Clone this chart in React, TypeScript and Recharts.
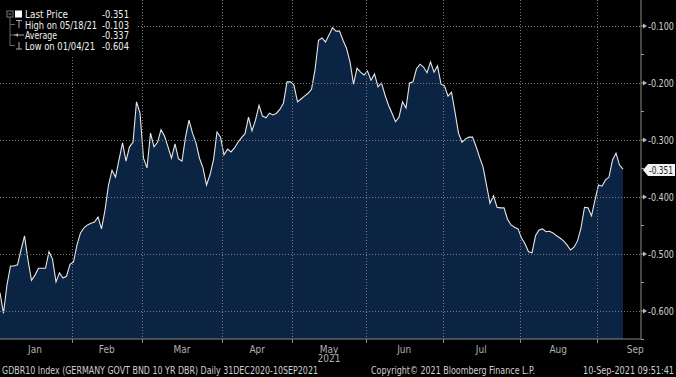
import { ComposedChart, Area, XAxis, YAxis } from 'recharts';

// GDBR10 daily close, 31 Dec 2020 .. 10 Sep 2021 (one value per trading day)
const yields = [
  -0.568, -0.604, -0.554, -0.521, -0.521, -0.519, -0.493, -0.468, -0.511, -0.546,
  -0.537, -0.525, -0.525, -0.525, -0.496, -0.509, -0.549, -0.533, -0.542, -0.539,
  -0.518, -0.514, -0.484, -0.463, -0.454, -0.449, -0.446, -0.444, -0.435, -0.456,
  -0.423, -0.379, -0.353, -0.365, -0.335, -0.305, -0.337, -0.312, -0.304, -0.233,
  -0.253, -0.332, -0.349, -0.288, -0.312, -0.304, -0.282, -0.293, -0.312, -0.332,
  -0.307, -0.333, -0.337, -0.295, -0.265, -0.288, -0.305, -0.332, -0.349, -0.379,
  -0.361, -0.335, -0.286, -0.295, -0.326, -0.316, -0.321, -0.314, -0.304, -0.296,
  -0.289, -0.26, -0.284, -0.265, -0.239, -0.258, -0.261, -0.253, -0.256, -0.253,
  -0.246, -0.235, -0.198, -0.198, -0.204, -0.233, -0.228, -0.223, -0.218, -0.211,
  -0.177, -0.125, -0.121, -0.128, -0.116, -0.103, -0.109, -0.109, -0.125, -0.139,
  -0.163, -0.202, -0.174, -0.181, -0.186, -0.179, -0.195, -0.184, -0.207, -0.2,
  -0.221, -0.239, -0.253, -0.268, -0.26, -0.233, -0.244, -0.2, -0.198, -0.175,
  -0.167, -0.172, -0.182, -0.163, -0.181, -0.17, -0.202, -0.205, -0.223, -0.216,
  -0.251, -0.288, -0.304, -0.298, -0.295, -0.295, -0.311, -0.33, -0.347, -0.379,
  -0.411, -0.398, -0.418, -0.419, -0.419, -0.439, -0.449, -0.453, -0.456, -0.472,
  -0.482, -0.496, -0.498, -0.468, -0.458, -0.456, -0.461, -0.46, -0.463, -0.468,
  -0.472, -0.477, -0.484, -0.493, -0.488, -0.477, -0.454, -0.418, -0.419, -0.433,
  -0.405, -0.379, -0.381, -0.37, -0.365, -0.335, -0.323, -0.344, -0.351,
];

const monthNames = ['Jan', 'Feb', 'Mar', 'Apr', 'May', 'Jun', 'Jul', 'Aug', 'Sep'];
// trading-day index of each month's first day (last entry = end of Sep)
const monthStarts = [0, 21, 41, 64, 84, 105, 127, 149, 171, 193];

const yTicks = [-0.6, -0.5, -0.4, -0.3, -0.2, -0.1];
const yMinorTicks = [-0.65, -0.55, -0.45, -0.35, -0.25, -0.15];

const legendRows = [
  { label: 'Last Price', value: '-0.351', w: 43 },
  { label: 'High on 05/18/21', value: '-0.103', w: 72 },
  { label: 'Average', value: '-0.337', w: 32 },
  { label: 'Low on 01/04/21', value: '-0.604', w: 70 },
];

const lastPrice = yields[yields.length - 1];

const Y_DOMAIN: [number, number] = [-0.6491, -0.0544];
const X_DOMAIN: [number, number] = [0, 183.14];

const FONT = "'Liberation Sans Narrow', 'DejaVu Sans Condensed', 'Liberation Sans', Arial, sans-serif";
const GRID_COLOR = '#7a7a7a';
const PLOT_LEFT = 0;
const PLOT_TOP = 0;

const chartData = yields.map((v, i) => ({ i, v }));
const boundaries = monthStarts.slice(1, 9).map((s) => s - 0.5);
const monthMids = monthNames.map((_, k) => (monthStarts[k] + monthStarts[k + 1] - 1) / 2);

function MonthTick(props: any) {
  const { x, y, payload } = props;
  const k = monthMids.indexOf(payload.value);
  const name = monthNames[k];
  return (
    <g>
      <text x={x} y={y + 10} textAnchor="middle" fill="#b0b0b0" fontSize={10} fontFamily={FONT}>
        {name}
      </text>
      {name === 'May' && (
        <text x={x} y={y + 19} textAnchor="middle" fill="#b0b0b0" fontSize={10} fontFamily={FONT}>
          2021
        </text>
      )}
    </g>
  );
}

// right axis: major ticks draw their dotted grid line, arrow and label
function PriceTick(props: any) {
  const { x, y, payload } = props;
  const v = Number(payload.value);
  if (v === lastPrice) {
    return (
      <g>
        <polygon
          points={`${x + 2},${y + 1} ${x + 7},${y - 5} ${x + 34},${y - 5} ${x + 34},${y + 7} ${x + 7},${y + 7}`}
          fill="#f2f2f2"
        />
        <text x={x + 8} y={y + 5} fill="#222" fontSize={10} fontFamily={FONT} textLength={24} lengthAdjust="spacingAndGlyphs">
          {v.toFixed(3)}
        </text>
      </g>
    );
  }
  if (yMinorTicks.includes(v)) {
    return <line x1={x} x2={x + 3} y1={y} y2={y} stroke="#999" />;
  }
  const gy = Math.round(y) + 0.5;
  return (
    <g>
      <line x1={PLOT_LEFT} x2={x} y1={gy} y2={gy} stroke={GRID_COLOR} strokeDasharray="1 2" />
      <line x1={x} x2={x + 3} y1={y} y2={y} stroke="#aaa" />
      <polygon points={`${x + 2},${y - 2.5} ${x + 6},${y} ${x + 2},${y + 2.5}`} fill="#bbb" />
      <text x={x + 7} y={y + 4} fill="#d0d0d0" fontSize={10} fontFamily={FONT} textLength={26} lengthAdjust="spacingAndGlyphs">
        {v.toFixed(3)}
      </text>
    </g>
  );
}

// bottom axis: month boundary tick plus its dotted vertical grid line
function BoundaryTick(props: any) {
  const { x, y } = props;
  const gx = Math.round(x) + 0.5;
  return (
    <g>
      <line x1={gx} x2={gx} y1={PLOT_TOP} y2={y - 4} stroke={GRID_COLOR} strokeDasharray="1 2" />
      <line x1={gx} x2={gx} y1={y - 4} y2={y} stroke="#888" />
    </g>
  );
}

function Legend() {
  const rowY = [14, 24.5, 35, 45.5];
  return (
    <g fontFamily={FONT}>
      <rect x={0} y={0} width={136} height={55} fill="#000" />
      <rect x={7} y={11} width={6} height={6} fill="none" stroke="#777" />
      <line x1={8.5} x2={11.5} y1={14} y2={14} stroke="#888" />
      <line x1={10} x2={10} y1={17} y2={46} stroke="#666" />
      {rowY.slice(1).map((ry) => (
        <line key={ry} x1={10} x2={15} y1={ry} y2={ry} stroke="#666" />
      ))}
      <rect x={15} y={10.5} width={7} height={7} fill="#fff" />
      <line x1={16} x2={22} y1={20.5} y2={20.5} stroke="#aaa" />
      <line x1={19} x2={19} y1={20.5} y2={28} stroke="#aaa" />
      <line x1={14} x2={24} y1={35} y2={35} stroke="#aaa" />
      <polygon points="15,35 18,33 18,37" fill="#aaa" />
      <line x1={19} x2={19} y1={42} y2={49} stroke="#aaa" />
      <line x1={16} x2={22} y1={49} y2={49} stroke="#aaa" />
      {legendRows.map((r, k) => (
        <g key={r.label}>
          <text x={25} y={rowY[k] + 4} fill="#f0f0f0" fontSize={10.5} textLength={r.w} lengthAdjust="spacingAndGlyphs">
            {r.label}
          </text>
          <text x={102} y={rowY[k] + 4} fill="#f0f0f0" fontSize={10.5} textLength={27} lengthAdjust="spacingAndGlyphs">
            {r.value}
          </text>
        </g>
      ))}
    </g>
  );
}

function Footer() {
  return (
    <g fontFamily={FONT} fill="#cfcfcf" fontSize={10.5}>
      <text x={2} y={374} textLength={316} lengthAdjust="spacingAndGlyphs">
        GDBR10 Index (GERMANY GOVT BND 10 YR DBR)  Daily 31DEC2020-10SEP2021
      </text>
      <text x={371} y={374} textLength={164} lengthAdjust="spacingAndGlyphs">
        Copyright© 2021 Bloomberg Finance L.P.
      </text>
      <text x={583} y={374} textLength={91} lengthAdjust="spacingAndGlyphs">
        10-Sep-2021 09:51:41
      </text>
    </g>
  );
}

export default function App() {
  return (
    <div style={{ position: 'fixed', left: 0, top: 0, width: 676, height: 377, background: '#000' }}>
      <ComposedChart width={676} height={377} data={chartData} margin={{ top: 0, right: 0, bottom: 0, left: 0 }}>
        <XAxis
          type="number"
          dataKey="i"
          domain={X_DOMAIN}
          allowDataOverflow
          ticks={boundaries}
          interval={0}
          tickLine={false}
          tick={<BoundaryTick />}
          tickSize={0}
          tickMargin={4}
          height={4}
          axisLine={{ stroke: '#888' }}
        />
        <XAxis
          xAxisId="m"
          type="number"
          dataKey="i"
          domain={X_DOMAIN}
          allowDataOverflow
          ticks={monthMids}
          interval={0}
          axisLine={false}
          tickLine={false}
          tickSize={0}
          tickMargin={0}
          height={34}
          tick={<MonthTick />}
        />
        <YAxis
          orientation="right"
          width={35}
          domain={Y_DOMAIN}
          allowDataOverflow
          ticks={[...yTicks, ...yMinorTicks, lastPrice]}
          interval={0}
          axisLine={{ stroke: '#8a8a8a' }}
          tickLine={false}
          tickSize={0}
          tickMargin={0}
          tick={<PriceTick />}
        />
        <Area
          type="linear"
          dataKey="v"
          baseValue="dataMin"
          stroke="#e6e6e6"
          strokeWidth={1.1}
          fill="#0b2444"
          fillOpacity={1}
          isAnimationActive={false}
          dot={false}
          activeDot={false}
        />
      </ComposedChart>
      <svg width={676} height={377} style={{ position: 'absolute', left: 0, top: 0, pointerEvents: 'none' }}>
        <Legend />
        <Footer />
      </svg>
    </div>
  );
}
